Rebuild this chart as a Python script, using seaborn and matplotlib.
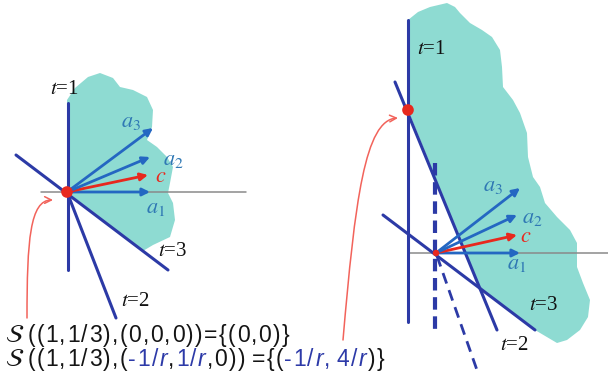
import matplotlib
matplotlib.use("Agg")
import matplotlib.pyplot as plt
import seaborn as sns
from matplotlib.patches import Polygon, FancyArrowPatch
from matplotlib.path import Path

# ---- diagram geometry (pixel space of the 608x387 picture, y pointing down) ----
# left panel
L_ORIGIN = (67, 192)
L_AXIS_X = [41, 246]
L_T1 = [(68, 103), (68, 270)]
L_T2 = [(67, 192), (116, 318)]
L_T3 = [(16, 155), (168, 270)]
L_BLOB = [(67, 100), (75, 88), (88, 77), (100, 73), (113, 78), (120, 87), (133, 90),
          (147, 97), (153, 110), (152, 127), (147, 140), (157, 147), (167, 157),
          (173, 167), (170, 183), (168, 193), (173, 203), (175, 220), (170, 237),
          (153, 245), (143, 251), (67, 192)]
L_VEC_NAMES = ["a1", "c", "a2", "a3"]
L_VEC_TIPS = [(150, 192), (148, 175), (150, 157), (153, 128)]
L_VEC_LABELS = [(146, 207), (155, 176), (163, 159), (121, 122)]
L_T_LABELS = [("1", (64, 90)), ("3", (173, 251)), ("2", (135, 302))]
L_CURVE = [(27, 318), (27, 240), (30, 200), (53, 200)]

# right panel
R_ORIGIN = (436, 253)
R_DOT = (408, 110)
R_AXIS_X = [408, 608]
R_T1 = [(408, 20), (408, 322)]
R_T2 = [(395, 82), (497, 330)]
R_T3 = [(383, 215), (535, 330)]
R_DASH_V = [(435, 163), (435, 332)]
R_DASH_S = [(437, 256), (478, 373)]
R_BLOB = [(408, 20), (418, 12), (430, 7), (447, 3), (455, 7), (460, 13), (470, 23),
          (482, 30), (492, 37), (500, 50), (502, 67), (503, 87), (513, 100),
          (520, 113), (527, 133), (528, 157), (533, 177), (540, 187), (545, 203),
          (557, 217), (570, 230), (577, 243), (577, 267), (583, 283), (590, 300),
          (588, 317), (580, 330), (567, 340), (557, 343), (535, 330), (481, 290),
          (408, 110)]
R_VEC_TIPS = [(520, 253), (517, 235), (517, 215), (520, 188)]
R_VEC_LABELS = [(507, 264), (520, 237), (522, 218), (483, 185)]
R_T_LABELS = [("1", (431, 50)), ("3", (544, 306)), ("2", (514, 345))]
R_CURVE = [(343, 340), (355, 200), (365, 120), (398, 118)]

# formula lines: (text, colour key, italic)
LINE1 = [("((1,1/3),(0,0,0))={(0,0)}", "k", False)]
LINE2 = [("((1,1/3),(", "k", False), ("-1/", "b", False), ("r", "b", True),
         (",", "k", False), ("1/", "b", False), ("r", "b", True),
         (",0)) ={(", "k", False), ("-1/", "b", False),
         ("r", "b", True), (", 4/", "b", False), ("r", "b", True), (")}", "k", False)]

LINE_COL = "#2c3aa6"
VEC_COL = "#2467c2"
RED = "#e8281e"
CURVE_COL = "#f2635b"
TEAL = "#8edbd2"
LABEL_COL = "#2f78b4"
TXT = {"k": "#141414", "b": "#2d3aa8"}

sns.set_theme(style="white")
plt.rcParams["font.family"] = ["Liberation Sans", "DejaVu Sans"]

fig = plt.figure(figsize=(6.08, 3.87), dpi=100)
ax = fig.add_axes([0, 0, 1, 1])
ax.set_xlim(0, 608)
ax.set_ylim(387, 0)
ax.axis("off")


def seg(p, **kw):
    sns.lineplot(x=[p[0][0], p[1][0]], y=[p[0][1], p[1][1]], ax=ax, sort=False,
                 estimator=None, **kw)


def vec_label(name, pos, color):
    if name == "c":
        s = r"$c$"
    else:
        s = r"$a_{%s}$" % name[1]
    ax.text(pos[0], pos[1], s, color=color, fontsize=16, math_fontfamily="stix",
            ha="left", va="center")


def t_label(num, pos):
    ax.text(pos[0], pos[1], r"$t$=" + num, fontsize=15, color="#111111",
            family="Liberation Serif", math_fontfamily="stix", ha="center", va="center")


def panel(blob, axis_x, origin, lines, tips, labels, tlabels):
    ax.add_patch(Polygon(blob, closed=True, facecolor=TEAL, edgecolor="none", zorder=1))
    seg([(axis_x[0], origin[1]), (axis_x[1], origin[1])], color="#8a8a8a", lw=1.1, zorder=2)
    for ln in lines:
        seg(ln, color=LINE_COL, lw=2.2, zorder=3)
    for name, tip, lab in zip(L_VEC_NAMES, tips, labels):
        col = RED if name == "c" else VEC_COL
        ax.annotate("", xy=tip, xytext=origin, zorder=4,
                    arrowprops=dict(arrowstyle="-|>", color=col, lw=2,
                                    mutation_scale=11, shrinkA=0, shrinkB=0))
        vec_label(name, lab, RED if name == "c" else LABEL_COL)
    for num, pos in tlabels:
        t_label(num, pos)


panel(L_BLOB, L_AXIS_X, L_ORIGIN, [L_T1, L_T2, L_T3], L_VEC_TIPS, L_VEC_LABELS, L_T_LABELS)
panel(R_BLOB, R_AXIS_X, R_ORIGIN, [R_T1, R_T2, R_T3], R_VEC_TIPS, R_VEC_LABELS, R_T_LABELS)
seg(R_DASH_V, color=LINE_COL, lw=3, linestyle=(0, (3, 1.6)), zorder=3)
seg(R_DASH_S, color=LINE_COL, lw=2, linestyle=(0, (4, 2.5)), zorder=3)

ax.scatter([L_ORIGIN[0], R_DOT[0]], [L_ORIGIN[1], R_DOT[1]], s=70, color=RED, zorder=6,
           edgecolor="none")
ax.scatter([R_ORIGIN[0]], [R_ORIGIN[1]], s=22, color=RED, zorder=6, edgecolor="none")

for curve in (L_CURVE, R_CURVE):
    path = Path(curve, [Path.MOVETO, Path.CURVE4, Path.CURVE4, Path.CURVE4])
    ax.add_patch(FancyArrowPatch(path=path, arrowstyle="->", mutation_scale=12,
                                 color=CURVE_COL, lw=1.1, zorder=5))

renderer = fig.canvas.get_renderer()


def right_edge(t):
    return ax.transData.inverted().transform((t.get_window_extent(renderer).x1, 0))[0]


def write_runs(x, y, runs, size=16.5, track=1.4):
    # characters are placed one by one so the wide spacing of the original can be kept
    t = ax.text(x, y, r"$\mathcal{S}$", fontsize=size + 2, color=TXT["k"],
                math_fontfamily="stix", va="baseline")
    x = right_edge(t) + 3
    for s, c, it in runs:
        for ch in s:
            if ch == " ":
                x += 5
                continue
            t = ax.text(x, y, ch, fontsize=size, color=TXT[c], va="baseline",
                        fontstyle="italic" if it else "normal")
            x = right_edge(t) + track


write_runs(5, 342, LINE1)
write_runs(5, 366, LINE2)

fig.savefig("out.png", dpi=100)
